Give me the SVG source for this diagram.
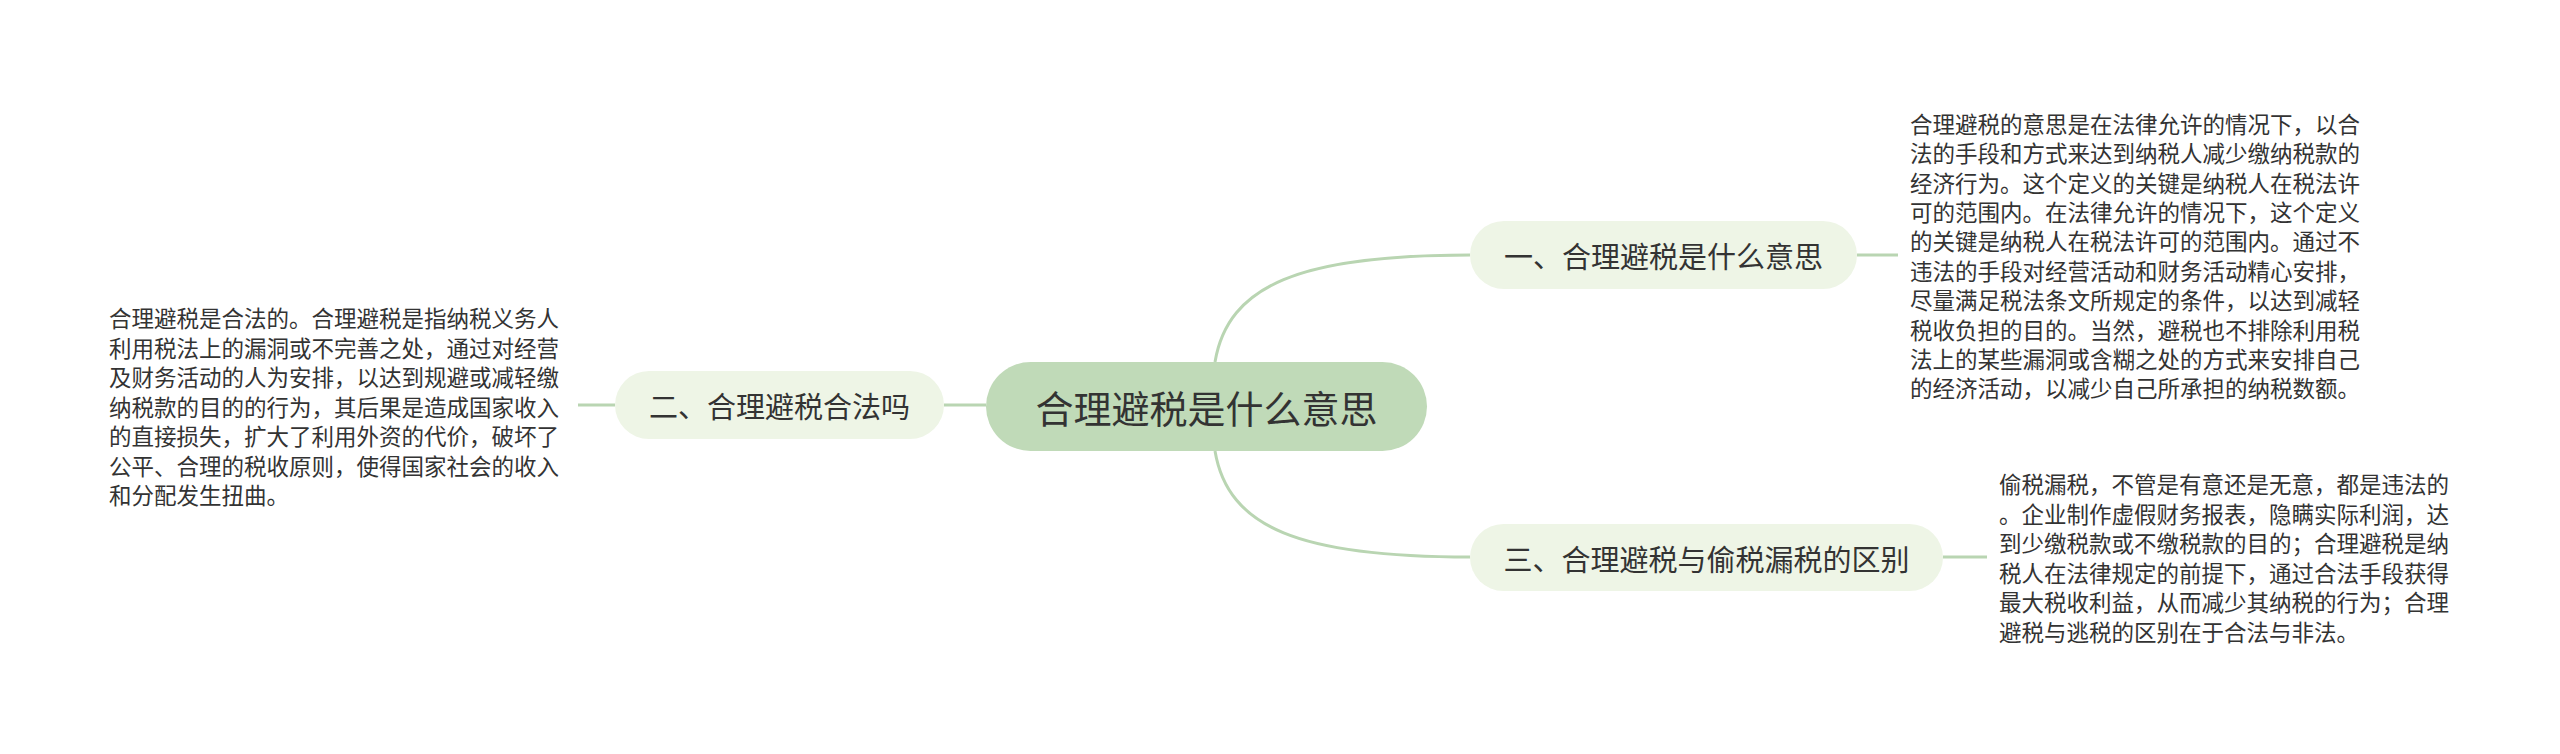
<svg xmlns="http://www.w3.org/2000/svg" width="2560" height="754" viewBox="0 0 2560 754">
<style>
.conn{fill:none;stroke:#b9d5b2;stroke-width:3}
.root{fill:#c0dab8}
.br{fill:#eef5e6}
.t{font-family:"Noto Sans CJK SC","Noto Sans",sans-serif;fill:#333}
.rt{font-size:38px;text-anchor:middle;dominant-baseline:central}
.bt{font-size:29px;text-anchor:middle;dominant-baseline:central}
.lf{font-size:22.5px;dominant-baseline:central}
</style>
<rect width="2560" height="754" fill="#ffffff"/>
<g id="connectors">
<path class="conn" d="M944,405 H986"/>
<path class="conn" d="M578,405 H615"/>
<path class="conn" d="M1215,362 C1228,285 1300,255 1470,255"/>
<path class="conn" d="M1215,451 C1228,528 1300,557 1470,557"/>
<path class="conn" d="M1857,255 H1898"/>
<path class="conn" d="M1943,557 H1987"/>
</g>
<g id="root">
<rect class="root" x="986" y="362" width="441" height="89" rx="44.5"/>
<text class="t rt" x="1206.5" y="406.5">合理避税是什么意思</text>
</g>
<g id="node1">
<rect class="br" x="1470" y="221" width="387" height="68" rx="34"/>
<text class="t bt" x="1663.5" y="255">一、合理避税是什么意思</text>
</g>
<g id="node2">
<rect class="br" x="615" y="371" width="329" height="68" rx="34"/>
<text class="t bt" x="779.5" y="405">二、合理避税合法吗</text>
</g>
<g id="node3">
<rect class="br" x="1470" y="524" width="473" height="67" rx="33.5"/>
<text class="t bt" x="1706.5" y="557.5">三、合理避税与偷税漏税的区别</text>
</g>
<g id="leaf1">
<text class="t lf" x="1910">
<tspan x="1910" y="122.7">合理避税的意思是在法律允许的情况下，以合</tspan>
<tspan x="1910" y="152.1">法的手段和方式来达到纳税人减少缴纳税款的</tspan>
<tspan x="1910" y="181.5">经济行为。这个定义的关键是纳税人在税法许</tspan>
<tspan x="1910" y="210.9">可的范围内。在法律允许的情况下，这个定义</tspan>
<tspan x="1910" y="240.3">的关键是纳税人在税法许可的范围内。通过不</tspan>
<tspan x="1910" y="269.7">违法的手段对经营活动和财务活动精心安排，</tspan>
<tspan x="1910" y="299.1">尽量满足税法条文所规定的条件，以达到减轻</tspan>
<tspan x="1910" y="328.5">税收负担的目的。当然，避税也不排除利用税</tspan>
<tspan x="1910" y="357.9">法上的某些漏洞或含糊之处的方式来安排自己</tspan>
<tspan x="1910" y="387.3">的经济活动，以减少自己所承担的纳税数额。</tspan>
</text>
</g>
<g id="leaf2">
<text class="t lf" x="109">
<tspan x="109" y="317">合理避税是合法的。合理避税是指纳税义务人</tspan>
<tspan x="109" y="346.5">利用税法上的漏洞或不完善之处，通过对经营</tspan>
<tspan x="109" y="376">及财务活动的人为安排，以达到规避或减轻缴</tspan>
<tspan x="109" y="405.5">纳税款的目的的行为，其后果是造成国家收入</tspan>
<tspan x="109" y="435">的直接损失，扩大了利用外资的代价，破坏了</tspan>
<tspan x="109" y="464.5">公平、合理的税收原则，使得国家社会的收入</tspan>
<tspan x="109" y="494">和分配发生扭曲。</tspan>
</text>
</g>
<g id="leaf3">
<text class="t lf" x="1999">
<tspan x="1999" y="483">偷税漏税，不管是有意还是无意，都是违法的</tspan>
<tspan x="1999" y="512.5">。企业制作虚假财务报表，隐瞒实际利润，达</tspan>
<tspan x="1999" y="542">到少缴税款或不缴税款的目的；合理避税是纳</tspan>
<tspan x="1999" y="571.5">税人在法律规定的前提下，通过合法手段获得</tspan>
<tspan x="1999" y="601">最大税收利益，从而减少其纳税的行为；合理</tspan>
<tspan x="1999" y="630.5">避税与逃税的区别在于合法与非法。</tspan>
</text>
</g>
</svg>
